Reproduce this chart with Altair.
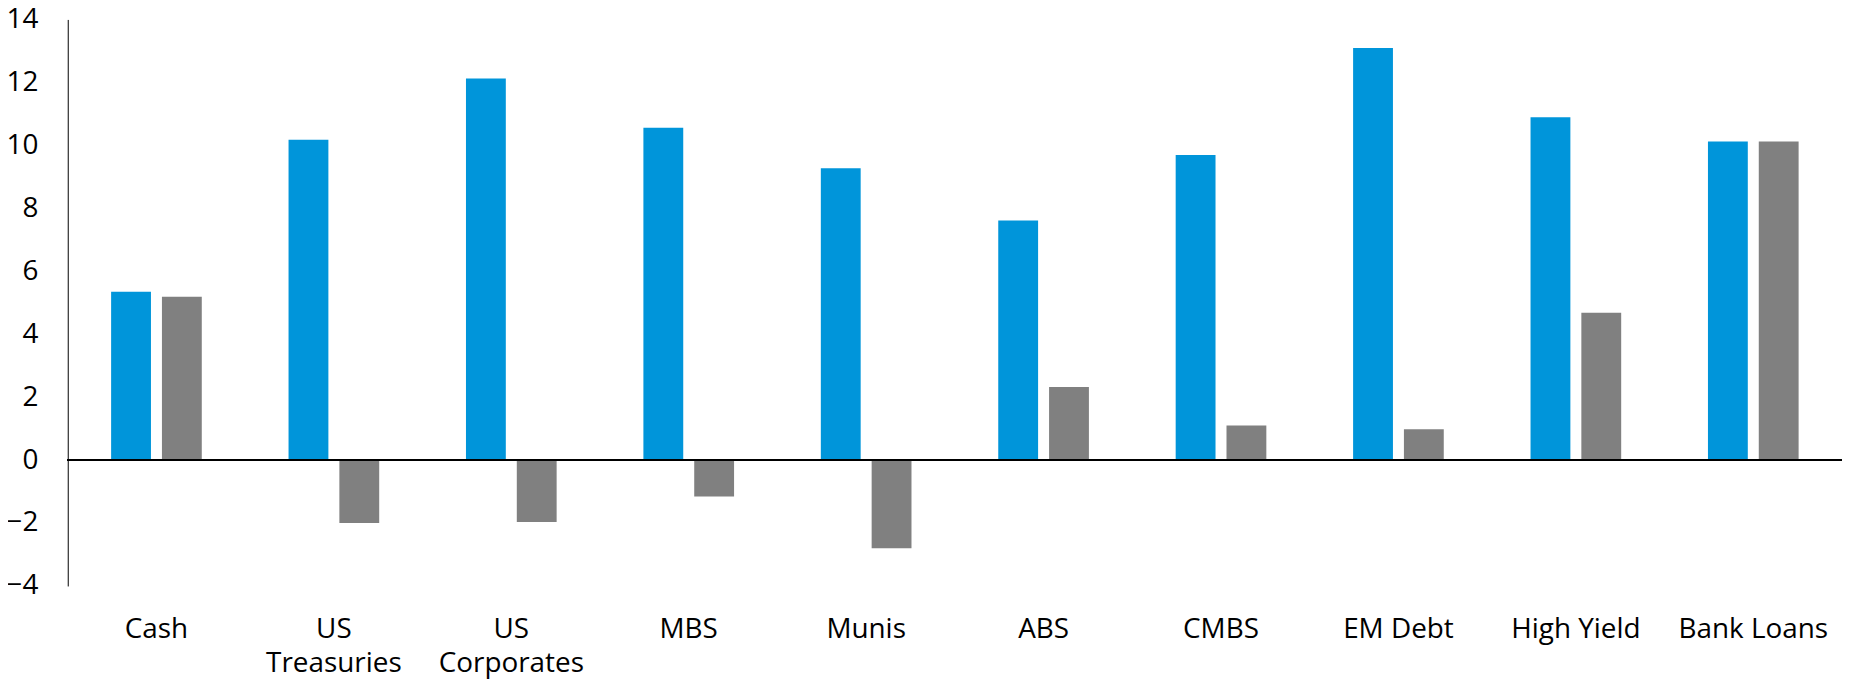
import altair as alt
import pandas as pd

categories = ["Cash", "US Treasuries", "US Corporates", "MBS", "Munis",
              "ABS", "CMBS", "EM Debt", "High Yield", "Bank Loans"]
series_names = ["Series A", "Series B"]
series_a = [5.35, 10.18, 12.12, 10.56, 9.27, 7.61, 9.69, 13.09, 10.89, 10.12]
series_b = [5.19, -2.00, -1.97, -1.16, -2.80, 2.32, 1.10, 0.98, 4.68, 10.12]
colors = ["#0095DA", "#808080"]
y_ticks = [-4, -2, 0, 2, 4, 6, 8, 10, 12, 14]

rows = []
for c, a, b in zip(categories, series_a, series_b):
    rows.append({"category": c, "series": series_names[0], "value": a})
    rows.append({"category": c, "series": series_names[1], "value": b})
df = pd.DataFrame(rows)

FONT = "Open Sans"

bars = alt.Chart(df).mark_bar().encode(
    x=alt.X(
        "category:N",
        sort=categories,
        scale=alt.Scale(paddingInner=0.489, paddingOuter=0.2445),
        axis=alt.Axis(
            title=None, orient="bottom", domain=False, ticks=False, labelAngle=0,
            labelFont=FONT, labelFontSize=28, labelColor="black",
            labelPadding=30, labelLineHeight=34, labelLimit=400, labelOverlap=False,
            labelExpr="indexof(datum.label, 'US ') == 0 ? split(datum.label, ' ') : datum.label",
        ),
    ),
    xOffset=alt.XOffset("series:N", sort=series_names,
                        scale=alt.Scale(paddingInner=0.216, paddingOuter=0)),
    y=alt.Y(
        "value:Q",
        scale=alt.Scale(domain=[-4, 14], nice=False, zero=False),
        axis=alt.Axis(
            title=None, values=y_ticks, grid=False, ticks=False, tickSize=0,
            domainColor="black", domainWidth=1,
            labelFont=FONT, labelFontSize=28, labelColor="black", labelPadding=30,
        ),
    ),
    color=alt.Color("series:N", scale=alt.Scale(domain=series_names, range=colors), legend=None),
)

zero = alt.Chart(df).mark_rule(color="black", strokeWidth=1.5).encode(y=alt.datum(0))

chart = alt.layer(bars, zero).properties(
    width=1782,
    height=569,
    padding={"left": 60, "top": 10, "right": 0, "bottom": 99},
    autosize=alt.AutoSizeParams(type="none"),
).configure_view(stroke=None)

chart.save("out.html", embed_options={"renderer": "svg", "actions": False})
